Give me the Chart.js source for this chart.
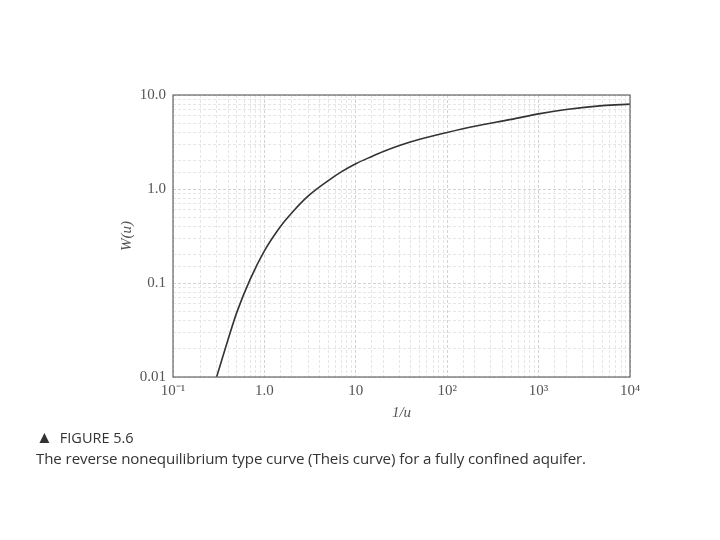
<!DOCTYPE html>
<html>
<head>
<meta charset="utf-8">
<script src="https://cdn.jsdelivr.net/npm/chart.js@4/dist/chart.umd.min.js"></script>
<style>
  body { margin: 0; background: #fff; }
  #wrap { position: relative; width: 720px; height: 540px; }
  .cap { position: absolute; left: 36px; font-family: "Open Sans", sans-serif; color: #333; white-space: nowrap; }
  #cap1 { top: 425px; font-size: 14.5px; }
  #cap1 span { font-size: 17px; margin-right: 7px; }
  #cap2 { top: 448px; font-size: 15.1px; letter-spacing: -0.1px; }
</style>
</head>
<body>
<div id="wrap">
  <canvas id="chart" width="720" height="540"></canvas>
  <div class="cap" id="cap1"><span>&#9650;</span>FIGURE 5.6</div>
  <div class="cap" id="cap2">The reverse nonequilibrium type curve (Theis curve) for a fully confined aquifer.</div>
</div>
<script>
// 1/u values and W(u)
const invU = [0.3, 0.4, 0.5, 0.7, 1, 1.5, 2, 3, 5, 7, 10, 15, 20, 30, 50, 100, 200, 500, 1000, 2000, 5000, 10000];
const wu = [0.01, 0.025, 0.049, 0.11, 0.22, 0.4, 0.56, 0.84, 1.23, 1.53, 1.86, 2.22, 2.5, 2.9, 3.38, 4.0, 4.65, 5.5, 6.3, 7.0, 7.7, 8.0];

const xTickLabels = { 0.1: "10\u207B\u00B9", 1: "1.0", 10: "10", 100: "10\u00B2", 1000: "10\u00B3", 10000: "10\u2074" };
const yTickLabels = { 0.01: "0.01", 0.1: "0.1", 1: "1.0", 10: "10.0" };

function labelFor(map, v) {
  for (const k in map) {
    if (Math.abs(Math.log10(v) - Math.log10(Number(k))) < 1e-6) return map[k];
  }
  return "";
}

const frame = {
  id: "frame",
  afterDatasetsDraw(chart) {
    const a = chart.chartArea;
    const c = chart.ctx;
    c.save();
    c.strokeStyle = "#666";
    c.lineWidth = 1.2;
    c.strokeRect(a.left, a.top, a.right - a.left, a.bottom - a.top);
    c.restore();
  }
};

const gridColor = (ctx) => (ctx.tick && ctx.tick.major ? "#d2d2d2" : "#e6e6e6");

new Chart(document.getElementById("chart"), {
  type: "line",
  data: {
    datasets: [{
      data: invU.map((x, i) => ({ x: x, y: wu[i] })),
      borderColor: "#333",
      borderWidth: 1.6,
      pointRadius: 0,
      cubicInterpolationMode: "monotone",
      fill: false
    }]
  },
  options: {
    responsive: false,
    animation: false,
    layout: { padding: { left: 105, top: 95, right: 90, bottom: 113 } },
    plugins: { legend: { display: false }, tooltip: { enabled: false } },
    scales: {
      x: {
        type: "logarithmic",
        min: 0.1,
        max: 10000,
        afterFit(s) { s.height = 50; },
        border: { display: false, dash: [3, 2] },
        grid: { color: gridColor, drawTicks: false },
        ticks: {
          autoSkip: false,
          maxRotation: 0,
          padding: 5,
          color: "#555",
          font: { family: "Liberation Serif", size: 15 },
          callback: (v) => labelFor(xTickLabels, v)
        },
        title: {
          display: true,
          text: "1/u",
          color: "#555",
          font: { family: "Liberation Serif", size: 15, style: "italic" },
          padding: { top: 0, bottom: 5 }
        }
      },
      y: {
        type: "logarithmic",
        min: 0.01,
        max: 10,
        afterFit(s) { s.width = 68; },
        border: { display: false, dash: [3, 2] },
        grid: { color: gridColor, drawTicks: false },
        ticks: {
          autoSkip: false,
          padding: 7,
          color: "#555",
          font: { family: "Liberation Serif", size: 15 },
          callback: (v) => labelFor(yTickLabels, v)
        },
        title: {
          display: true,
          text: "W(u)",
          color: "#555",
          font: { family: "Liberation Serif", size: 15, style: "italic" },
          padding: { top: 13, bottom: 0 }
        }
      }
    }
  },
  plugins: [frame]
});
</script>
</body>
</html>
